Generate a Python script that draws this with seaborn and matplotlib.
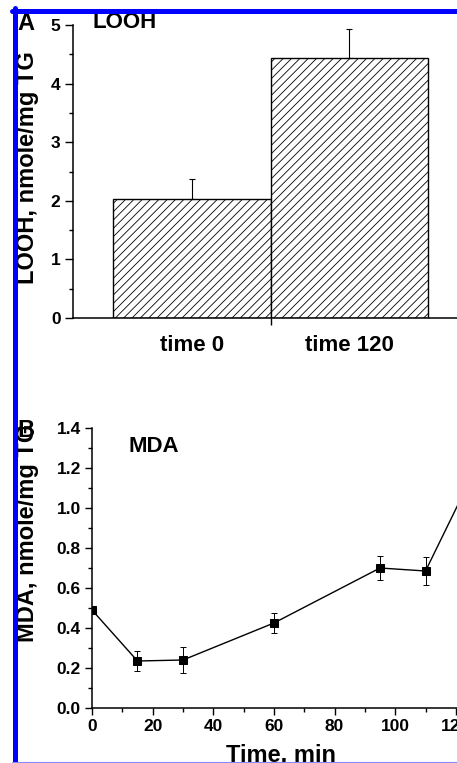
import matplotlib
matplotlib.use("Agg")
import matplotlib.pyplot as plt
from matplotlib.lines import Line2D
from matplotlib.ticker import MultipleLocator, FixedLocator, FormatStrFormatter
import numpy as np
import seaborn as sb

# date - panel A (LOOH)
conditii = ["time 0", "time 120"]
looh = [2.03, 4.43]
looh_err = [0.34, 0.50]

# date - panel B (MDA)
timp = [0, 15, 30, 60, 95, 110, 125]
mda = [0.49, 0.235, 0.24, 0.425, 0.70, 0.685, 1.15]
mda_err = [0.0, 0.05, 0.065, 0.05, 0.06, 0.07, 0.0]

sb.set_style("ticks")
plt.rcParams['font.family'] = ['Liberation Sans', 'DejaVu Sans']
plt.rcParams['font.weight'] = 'bold'
plt.rcParams['axes.labelweight'] = 'bold'
plt.rcParams['hatch.linewidth'] = 0.6
plt.rcParams['hatch.color'] = 'black'
for k in ['text.color', 'axes.labelcolor', 'xtick.color', 'ytick.color', 'axes.edgecolor']:
    plt.rcParams[k] = 'black'

W, H = 457, 763
fig = plt.figure(figsize=(W / 100, H / 100), dpi=100)


def pos(left, top, right, bottom):
    return [left / W, 1 - bottom / H, (right - left) / W, (bottom - top) / H]


# panel A
ax1 = fig.add_axes(pos(73, 25, 468, 318))
sb.barplot(x=conditii, y=looh, ax=ax1, width=1.0, color='white', saturation=1,
           edgecolor='black', linewidth=1.0, hatch='////', errorbar=None)
ax1.errorbar(range(len(looh)), looh, yerr=[np.zeros(len(looh)), looh_err],
             fmt='none', ecolor='black', elinewidth=0.8, capsize=2.5, capthick=0.8)
ax1.set_xlim(-0.755, 1.755)
ax1.set_ylim(0, 5)
ax1.yaxis.set_major_locator(MultipleLocator(1))
ax1.yaxis.set_minor_locator(MultipleLocator(0.5))
ax1.xaxis.set_minor_locator(FixedLocator([0.5]))
ax1.tick_params(axis='x', which='major', length=0, pad=12, labelsize=16)
ax1.tick_params(axis='x', which='minor', length=5, width=1.0)
ax1.tick_params(axis='y', which='major', length=6, width=1.0, pad=3, labelsize=12.5)
ax1.tick_params(axis='y', which='minor', length=3, width=1.0)
ax1.set_ylabel("LOOH, nmole/mg TG", fontsize=17)
ax1.yaxis.set_label_coords(-0.086, 0.512)
ax1.set_xlabel("")
sb.despine(ax=ax1)
for s in ['left', 'bottom']:
    ax1.spines[s].set_linewidth(1.1)

# panel B
ax2 = fig.add_axes(pos(92, 428, 471, 708))
sb.lineplot(x=timp, y=mda, ax=ax2, color='black', marker='s', markersize=6,
            linewidth=1.0, markeredgecolor='black')
ax2.errorbar(timp, mda, yerr=mda_err, fmt='none', ecolor='black',
             elinewidth=0.7, capsize=2.5, capthick=0.7)
ax2.set_xlim(0, 125)
ax2.set_ylim(0, 1.4)
ax2.xaxis.set_major_locator(MultipleLocator(20))
ax2.xaxis.set_minor_locator(MultipleLocator(10))
ax2.yaxis.set_major_locator(MultipleLocator(0.2))
ax2.yaxis.set_minor_locator(MultipleLocator(0.1))
ax2.yaxis.set_major_formatter(FormatStrFormatter('%.1f'))
ax2.tick_params(which='major', length=5, width=1.0, pad=3, labelsize=12.5)
ax2.tick_params(which='minor', length=3, width=1.0)
ax2.set_ylabel("MDA, nmole/mg TG", fontsize=17)
ax2.yaxis.set_label_coords(-0.14, 0.625)
ax2.set_xlabel("Time, min", fontsize=17)
ax2.xaxis.set_label_coords(0.50, -0.127)
sb.despine(ax=ax2)
for s in ['left', 'bottom']:
    ax2.spines[s].set_linewidth(1.1)

# texte
fig.text(17 / W, 1 - 30 / H, "A", fontsize=17, va='baseline')
fig.text(92 / W, 1 - 28 / H, "LOOH", fontsize=16, va='baseline')
fig.text(17 / W, 1 - 437 / H, "B", fontsize=17, va='baseline')
fig.text(128 / W, 1 - 452 / H, "MDA", fontsize=16, va='baseline')

# chenar albastru
fig.add_artist(Line2D([12 / W, 1], [1 - 10.5 / H] * 2, color='#0000ff', lw=3.6, zorder=10))
fig.add_artist(Line2D([14.5 / W] * 2, [0, 1 - 8 / H], color='#0000ff', lw=3.6, zorder=10))
fig.add_artist(Line2D([12 / W, 1], [1 - 761.5 / H] * 2, color='#8888ff', lw=0.8, zorder=10))

fig.savefig("out.png", dpi=100)
